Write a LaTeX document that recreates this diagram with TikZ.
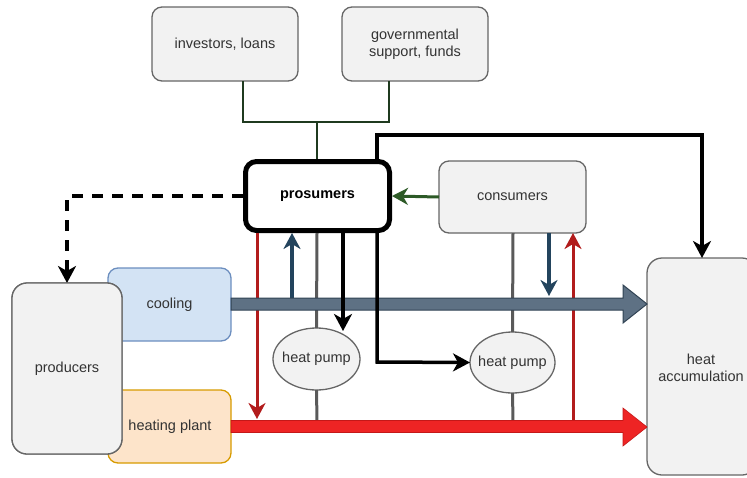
\documentclass[tikz,border=0pt]{standalone}
\usepackage{fontspec}
\setmainfont{Liberation Sans}
\usetikzlibrary{arrows.meta,shapes.geometric,calc}
\definecolor{boxfill}{HTML}{F2F2F2}
\definecolor{boxline}{HTML}{666666}
\definecolor{txt}{HTML}{333333}
\definecolor{coolfill}{HTML}{D3E3F4}
\definecolor{coolline}{HTML}{6C8EBF}
\definecolor{heatfill}{HTML}{FDE4CA}
\definecolor{heatline}{HTML}{D79B00}
\definecolor{barblue}{HTML}{5E7184}
\definecolor{barblueline}{HTML}{314354}
\definecolor{barred}{HTML}{EE2424}
\definecolor{barredline}{HTML}{C41818}
\definecolor{darkred}{HTML}{B21C1C}
\definecolor{darkblue}{HTML}{23445D}
\definecolor{grayline}{HTML}{5A5A5A}
\definecolor{greenarrow}{HTML}{2D5A27}
\definecolor{stemgreen}{HTML}{1F3A1F}
\begin{document}
\begin{tikzpicture}[x=1pt,y=-1pt,
  font=\fontsize{14.5}{17}\selectfont,
  graybox/.style={draw=boxline, fill=boxfill, line width=1.3pt, rounded corners=10pt,
    text=txt, align=center, inner sep=0pt, outer sep=0pt},
  hpump/.style={ellipse, draw=boxline, fill=boxfill, line width=1.3pt, text=txt,
    inner sep=0pt, outer sep=0pt},
  tip/.style={-{Stealth[length=17pt,width=18pt,inset=5pt]}},
  smalltip/.style={-{Stealth[length=16pt,width=17pt,inset=5pt]}}
]
\useasboundingbox (0,0) rectangle (747,477);

% nodes
\node[graybox, minimum width=146pt, minimum height=74pt] (inv) at (225,44) {investors, loans};
\node[graybox, minimum width=146pt, minimum height=74pt] (gov) at (415,44) {governmental\\support, funds};
\node[draw=black, fill=white, line width=5pt, rounded corners=11pt, minimum width=144pt,
  minimum height=69pt, inner sep=0pt, outer sep=2.5pt, font=\fontsize{14.5}{17}\selectfont\bfseries]
  (pros) at (317.5,196) {prosumers};
\node[graybox, minimum width=147pt, minimum height=72pt] (cons) at (512.5,197) {consumers};
\node[graybox, draw=coolline, fill=coolfill, minimum width=123pt, minimum height=73pt] (cool) at (169.5,304.5) {};
\node[text=txt] at (169.5,304.5) {cooling};
\node[graybox, draw=heatline, fill=heatfill, minimum width=123pt, minimum height=73pt] (heat) at (169.5,426.5) {};
\node[text=txt] at (170,426.5) {heating plant};
\node[graybox, rounded corners=15pt, minimum width=110pt, minimum height=171pt] (prod) at (67,368.5) {};
\node[graybox, rounded corners=15pt, minimum width=110pt, minimum height=217pt] (acc) at (702,366.5) {};
\node[text=txt, align=center] at (701,368) {heat\\accumulation};
\node[hpump, minimum width=87pt, minimum height=62pt] (hp1) at (316.5,359) {};
\node[text=txt] at (316.5,359) {heat pump};
\node[hpump, minimum width=85pt, minimum height=61pt] (hp2) at (512.5,362.5) {};
\node[text=txt] at (512.5,362.5) {heat pump};

% financing connectors
\coordinate (join) at (317,122);
\draw[stemgreen, line width=2pt] (243,0 |- inv.south) -- (243,122) -- (389,122) -- (389,0 |- gov.south);
\draw[stemgreen, line width=2pt] (join) -- (pros.north -| join);

% consumers -> prosumers
\draw[greenarrow, line width=3pt, smalltip] (cons.west) -- (pros.east);

% dashed prosumers -> producers
\draw[black, line width=3.5pt, dash pattern=on 11pt off 9pt, tip] (pros.west) -- (67,0 |- pros.west) -- (prod.north);

% thin lines below the bars
\coordinate (redtip1) at (257,419);
\draw[darkred, line width=3pt, smalltip] (257,0 |- pros.south) -- (redtip1);
\coordinate (bluestart1) at (292,298);
\draw[darkblue, line width=3.2pt, smalltip] (bluestart1) -- (292,0 |- pros.south);
\draw[grayline, line width=3pt] (317,0 |- pros.south) -- (hp1.north);
\coordinate (g1) at (317,421);
\draw[grayline, line width=3pt] (hp1.south) -- (g1);
\draw[grayline, line width=3pt] (513,0 |- cons.south) -- (hp2.north);
\coordinate (g2) at (513,421);
\draw[grayline, line width=3pt] (hp2.south) -- (g2);
\coordinate (bluetip2) at (549,296);
\draw[darkblue, line width=3.2pt, smalltip] (549,0 |- cons.south) -- (bluetip2);
\coordinate (redstart2) at (573,421);
\draw[darkred, line width=3pt, smalltip] (redstart2) -- (573,0 |- cons.south);

% big arrows
\fill[barblue, draw=barblueline, line width=1pt] (cool.east |- 0,298) -- (623,298) -- (623,285) -- (647,304)
  -- (623,323) -- (623,310) -- (cool.east |- 0,310) -- cycle;
\fill[barred, draw=barredline, line width=0.6pt] (heat.east |- 0,420.5) -- (623,420.5) -- (623,408) -- (647,427)
  -- (623,446) -- (623,432.5) -- (heat.east |- 0,432.5) -- cycle;

% black lines over the bars
\draw[black, line width=3.5pt, tip] (343,0 |- pros.south) -- (343,331);
\draw[black, line width=3.5pt, tip] (377,0 |- pros.north) -- (377,135) -- (702,135) -- (acc.north -| 702,0);
\draw[black, line width=3.5pt, tip] (377,0 |- pros.south) -- (377,362) -- (hp2.west);

% producers on top of cooling/heating
\node[graybox, rounded corners=15pt, minimum width=110pt, minimum height=171pt] at (67,368.5) {producers};
\end{tikzpicture}
\end{document}
